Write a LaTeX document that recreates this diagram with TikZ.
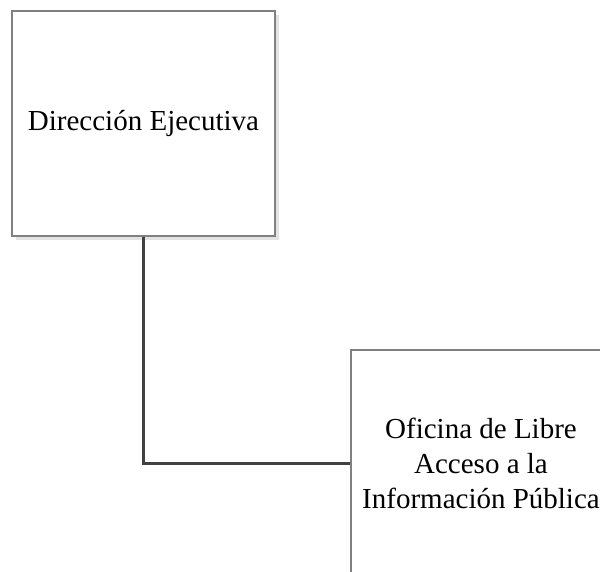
\documentclass[tikz,border=0pt]{standalone}
\usepackage{fontspec}
\setmainfont{Liberation Serif}
\usetikzlibrary{shadows}
\definecolor{boxline}{HTML}{808080}
\definecolor{conline}{HTML}{404040}
\definecolor{shade}{HTML}{E3E3E3}
\begin{document}
\begin{tikzpicture}[x=1pt,y=-1pt,
  orgbox/.style={draw=boxline, line width=1.2pt, fill=white, inner sep=0pt,
    font=\fontsize{29}{35}\selectfont, align=center},
  boxshadow/.style={drop shadow={shadow xshift=4pt, shadow yshift=-4pt, fill=shade, opacity=1}},
  link/.style={draw=conline, line width=3pt}]
\useasboundingbox (0,0) rectangle (600,572);
\fill[white] (0,0) rectangle (600,572);
\node[orgbox, boxshadow, minimum width=263pt, minimum height=225pt] (dir) at (143.5,123.5) {Dirección Ejecutiva};
\node[orgbox, minimum width=260pt, minimum height=226pt] (ofi) at (481,463) {Oficina de Libre\\Acceso a la\\Información Pública};
\draw[link] (dir.south) |- (ofi.west);
\end{tikzpicture}
\end{document}
